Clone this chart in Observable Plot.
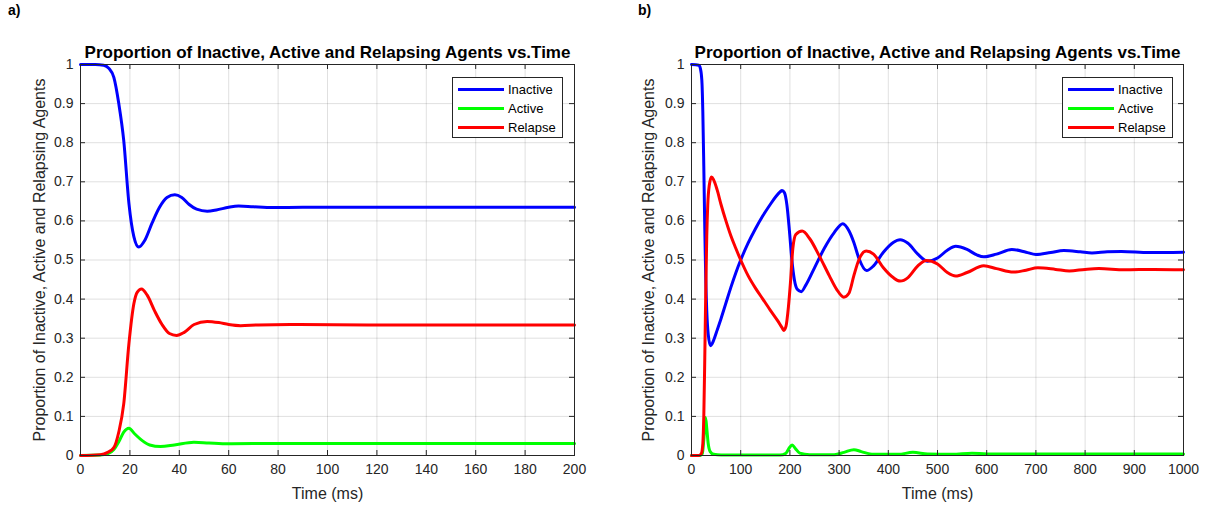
<!DOCTYPE html>
<html><head><meta charset="utf-8">
<script src="https://cdn.jsdelivr.net/npm/d3@7"></script>
<script src="https://cdn.jsdelivr.net/npm/@observablehq/plot@0.6"></script>
<style>
body{margin:0;background:#fff;font-family:"Liberation Sans",Arial,sans-serif;}
#wrap{position:relative;width:1209px;height:510px;overflow:hidden;background:#fff}
.panel{position:absolute;top:0}
.tag{position:absolute;font-weight:bold;font-size:14px;color:#000}
.legend{position:absolute;border:1px solid #262626;background:#fff;box-sizing:border-box}
.row{position:absolute;left:0;height:19px;width:100%}
.sw{position:absolute;left:5px;top:8px;width:46px;height:3px}
.lab{position:absolute;left:55px;top:1px;font-size:13px;color:#000;line-height:17px}
</style></head><body><div id="wrap"></div>
<script>
const panelTags = ["a)", "b)"];
const seriesNames = ["Inactive", "Active", "Relapse"];
const seriesColors = ["#0000ff", "#00ff00", "#ff0000"];
const titleText = "Proportion of Inactive, Active and Relapsing Agents vs.Time";
const xLabel = "Time (ms)";
const yLabel = "Proportion of Inactive, Active and Relapsing Agents";
const yTicks = [0, 0.1, 0.2, 0.3, 0.4, 0.5, 0.6, 0.7, 0.8, 0.9, 1];
const xTicksA = [0, 20, 40, 60, 80, 100, 120, 140, 160, 180, 200];
const xTicksB = [0, 100, 200, 300, 400, 500, 600, 700, 800, 900, 1000];

// Panel a) [time, proportion]
const aInactive = [[0,1],[6,1],[9.4,0.998],[11.5,0.99],[13.5,0.967],[15.5,0.9],[17.5,0.806],[19.6,0.645],[21.6,0.56],[23.6,0.533],[26,0.55],[29,0.595],[32,0.635],[35,0.66],[38.2,0.667],[41,0.66],[44,0.642],[47,0.63],[51.3,0.625],[55,0.628],[60,0.635],[64,0.638],[70,0.636],[78,0.634],[90,0.635],[120,0.635],[160,0.635],[200,0.635]];
const aActive = [[0,0],[8,0.001],[11,0.004],[13.5,0.015],[15.5,0.035],[17.5,0.06],[19.6,0.07],[22,0.055],[25,0.038],[28,0.027],[32.4,0.023],[38,0.027],[45.9,0.034],[52,0.032],[60,0.03],[80,0.031],[120,0.031],[200,0.031]];
const aRelapse = [[0,0],[8,0.002],[11,0.008],[13.5,0.02],[15.5,0.06],[17.5,0.132],[19.6,0.286],[21.6,0.388],[23,0.418],[24.7,0.426],[27,0.41],[30,0.37],[33,0.335],[36,0.312],[38.9,0.307],[42,0.315],[46,0.335],[51.3,0.343],[56,0.34],[60,0.335],[64.8,0.332],[72,0.334],[85,0.335],[120,0.334],[160,0.334],[200,0.334]];

// Panel b) [time, proportion]
const bInactive = [[0,1],[15,0.998],[18,0.99],[21,0.96],[23,0.88],[25,0.74],[27,0.58],[29,0.45],[31,0.37],[34,0.31],[38.6,0.281],[42,0.286],[46,0.298],[52,0.32],[60,0.35],[70,0.39],[80,0.43],[90,0.467],[100,0.5],[115,0.543],[130,0.58],[145,0.613],[160,0.642],[172,0.663],[180,0.674],[184,0.678],[189,0.672],[194,0.64],[199,0.575],[204,0.5],[209,0.45],[215,0.425],[223,0.419],[232,0.435],[250,0.48],[270,0.53],[290,0.57],[307.6,0.593],[320,0.575],[330,0.545],[340,0.505],[355.7,0.473],[370,0.485],[390,0.52],[410,0.545],[424,0.552],[440,0.543],[460,0.515],[480,0.497],[500,0.505],[520,0.525],[537,0.535],[560,0.527],[580,0.513],[594,0.508],[620,0.515],[651,0.527],[680,0.52],[700,0.514],[730,0.519],[757,0.524],[790,0.521],[814,0.518],[845,0.521],[874,0.522],[930,0.519],[1000,0.52]];
const bActive = [[0,0],[18,0],[22,0.005],[25,0.04],[28.5,0.097],[31,0.07],[34,0.03],[38,0.01],[45,0.003],[60,0.001],[180,0.001],[192,0.006],[198,0.018],[204.6,0.027],[211,0.018],[220,0.006],[240,0.002],[290,0.002],[310,0.008],[330,0.015],[345,0.01],[370,0.003],[420,0.003],[450,0.008],[480,0.004],[530,0.003],[570,0.006],[600,0.004],[700,0.004],[1000,0.004]];
const bRelapse = [[0,0],[15,0],[20,0.005],[23,0.03],[25,0.1],[27,0.25],[29,0.42],[31,0.56],[33,0.64],[36,0.69],[40.6,0.712],[45,0.705],[52,0.68],[60,0.642],[70,0.6],[80,0.562],[90,0.53],[100,0.5],[115,0.46],[130,0.428],[145,0.4],[160,0.372],[175,0.345],[184,0.327],[187.6,0.32],[192,0.33],[197,0.38],[201,0.44],[206,0.53],[212,0.565],[225,0.574],[240,0.555],[260,0.51],[280,0.46],[295,0.425],[309.6,0.405],[320,0.415],[330,0.46],[340,0.5],[355,0.523],[370,0.515],[390,0.48],[410,0.455],[424,0.446],[440,0.455],[460,0.485],[477,0.499],[500,0.49],[520,0.468],[537,0.459],[560,0.468],[594,0.485],[620,0.478],[654,0.469],[680,0.474],[704,0.48],[740,0.476],[768,0.472],[800,0.476],[828,0.478],[880,0.475],[940,0.476],[1000,0.475]];

const H = 391;
function makePanel({series, xTicks, left, width, marginLeft, marginRight, ylabDx}) {
  const W = width - marginLeft - marginRight;
  const ink = "#262626";
  const chart = Plot.plot({
    width, height: 510,
    marginLeft, marginRight, marginTop: 64, marginBottom: 55,
    style: {fontFamily: "'Liberation Sans', Arial, sans-serif", fontSize: "14px", background: "white", overflow: "visible"},
    x: {domain: [xTicks[0], xTicks[xTicks.length - 1]]},
    y: {domain: [0, 1]},
    marks: [
      Plot.gridX(xTicks, {stroke: ink, strokeOpacity: 0.14}),
      Plot.gridY(yTicks, {stroke: ink, strokeOpacity: 0.14}),
      ...series.map((s, i) => Plot.line(s, {x: d => d[0], y: d => d[1], stroke: seriesColors[i], strokeWidth: 3, curve: "monotone-x"})),
      Plot.frame({stroke: ink, strokeWidth: 1}),
      Plot.tickX(xTicks, {x: d => d, insetTop: H - 5, stroke: ink}),
      Plot.tickX(xTicks, {x: d => d, insetBottom: H - 5, stroke: ink}),
      Plot.tickY(yTicks, {y: d => d, insetRight: W - 5, stroke: ink}),
      Plot.tickY(yTicks, {y: d => d, insetLeft: W - 5, stroke: ink}),
      Plot.axisX(xTicks, {tickSize: 0, tickPadding: 9, color: ink, fontSize: 14, label: null, tickFormat: d => String(d)}),
      Plot.axisY(yTicks, {tickSize: 0, tickPadding: 7, color: ink, fontSize: 14, label: null, tickFormat: d => String(d)}),
      Plot.text([titleText], {frameAnchor: "top", dy: -12, lineAnchor: "middle", fontWeight: "bold", fontSize: 17, fill: "black"}),
      Plot.text([xLabel], {frameAnchor: "bottom", dy: 38, lineAnchor: "middle", fontSize: 16, fill: ink}),
      Plot.text([yLabel], {frameAnchor: "left", dx: ylabDx, rotate: -90, textAnchor: "middle", lineAnchor: "middle", fontSize: 16, fill: ink})
    ]
  });
  const div = document.createElement("div");
  div.className = "panel";
  div.style.left = left + "px";
  div.appendChild(chart);
  return div;
}

const wrap = document.getElementById("wrap");
wrap.appendChild(makePanel({series: [aInactive, aActive, aRelapse], xTicks: xTicksA, left: 0, width: 604, marginLeft: 80, marginRight: 30, ylabDx: -41}));
wrap.appendChild(makePanel({series: [bInactive, bActive, bRelapse], xTicks: xTicksB, left: 604, width: 605, marginLeft: 87, marginRight: 26, ylabDx: -43}));

function addLegend(x) {
  const lg = document.createElement("div");
  lg.className = "legend";
  lg.style.left = x + "px"; lg.style.top = "77px"; lg.style.width = "111px"; lg.style.height = "61px";
  seriesNames.forEach((n, i) => {
    const r = document.createElement("div");
    r.className = "row"; r.style.top = (2 + i * 19) + "px";
    const sw = document.createElement("div"); sw.className = "sw"; sw.style.background = seriesColors[i];
    const lb = document.createElement("div"); lb.className = "lab"; lb.textContent = n;
    r.appendChild(sw); r.appendChild(lb); lg.appendChild(r);
  });
  wrap.appendChild(lg);
}
addLegend(452);
addLegend(1062);

[[panelTags[0], 8], [panelTags[1], 638]].forEach(([t, x]) => {
  const d = document.createElement("div");
  d.className = "tag"; d.textContent = t; d.style.left = x + "px"; d.style.top = "2px";
  wrap.appendChild(d);
});
</script></body></html>
